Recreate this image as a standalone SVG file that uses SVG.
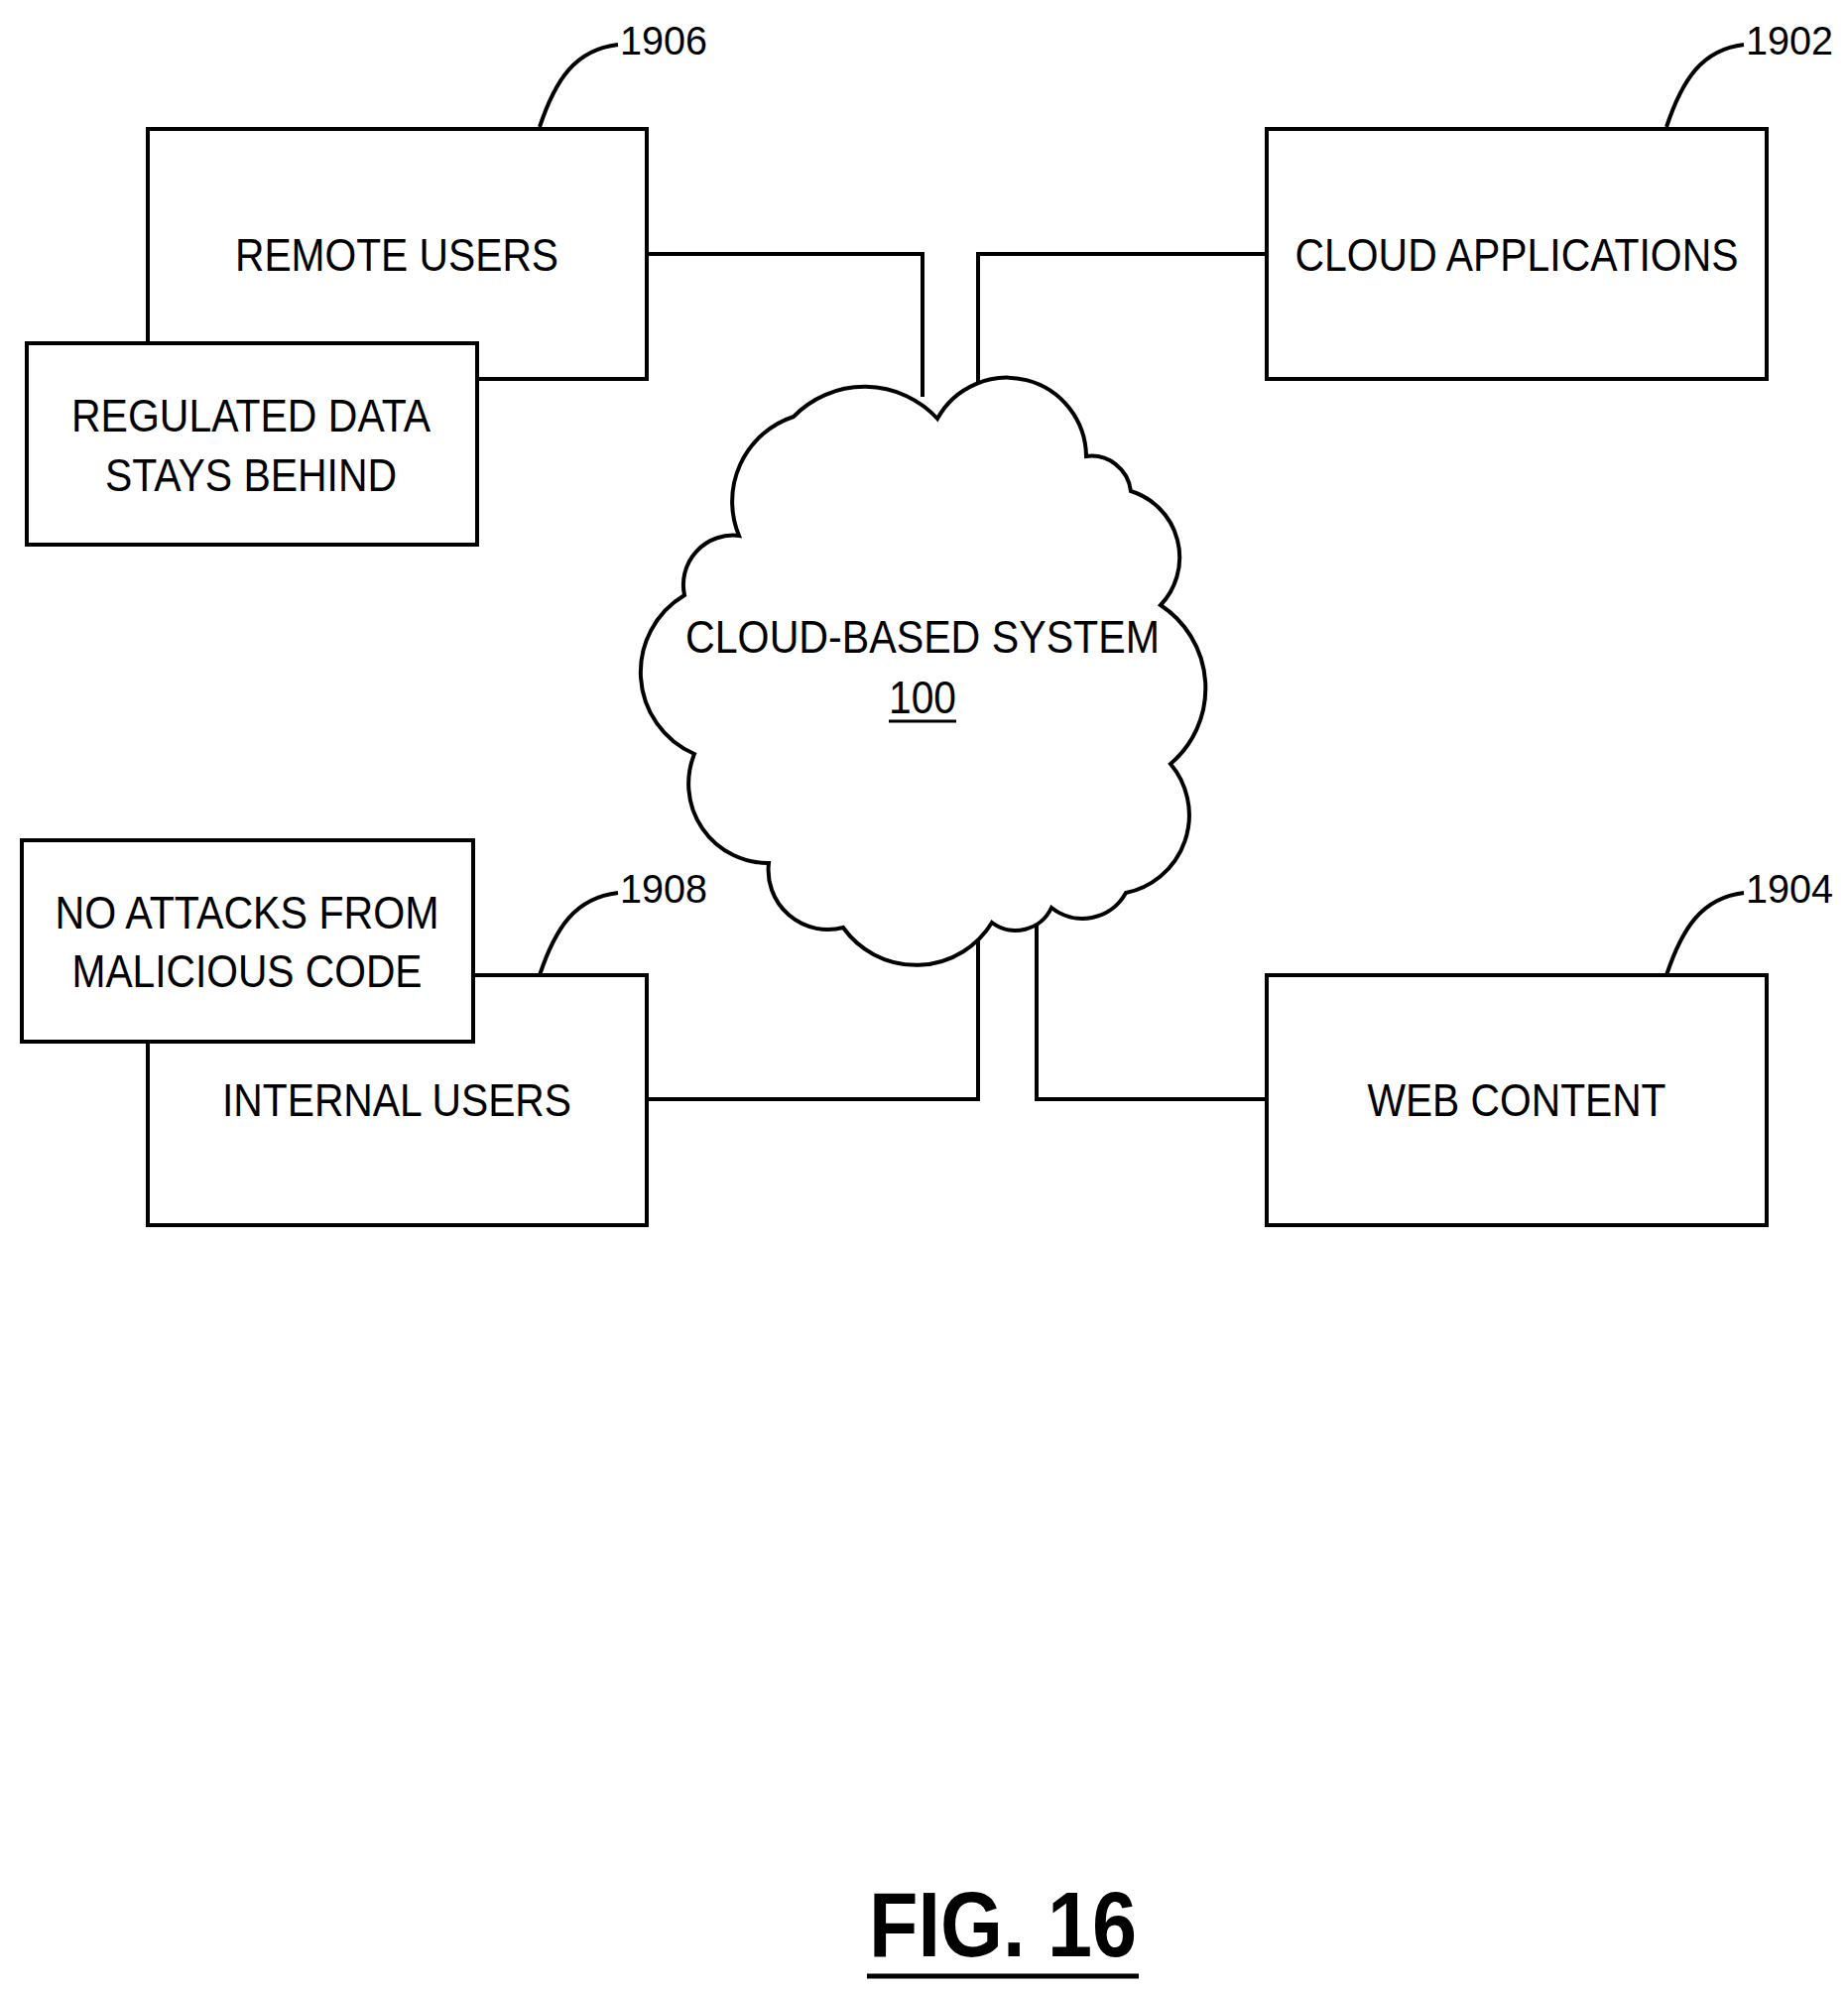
<svg xmlns="http://www.w3.org/2000/svg" width="1863" height="2008" viewBox="0 0 1863 2008">
<style>
.b{fill:#fff;stroke:#000;stroke-width:4}
.l{fill:none;stroke:#000;stroke-width:4}
text{font-family:"Liberation Sans",Arial,sans-serif;font-size:46px;text-anchor:middle;fill:#000}
.r{font-size:40px;text-anchor:start}
</style>
<rect width="1863" height="2008" fill="#fff"/>
<g id="connectors">
<polyline class="l" points="652,256 930,256 930,400"/>
<polyline class="l" points="1277,256 986,256 986,385"/>
<polyline class="l" points="652,1108 986,1108 986,944"/>
<polyline class="l" points="1277,1108 1045,1108 1045,915"/>
<path class="l" d="M544,128 C560,80 580,50 623,45"/>
<path class="l" d="M1680,128 C1696,80 1716,50 1758,45"/>
<path class="l" d="M544,983 C560,935 580,905 623,900"/>
<path class="l" d="M1680,983 C1696,935 1716,905 1758,900"/>
</g>
<g id="cloud">
<path class="b" d="M945,422 A80,80 0 0 1 1095,460 A40,40 0 0 1 1140,495 A70,70 0 0 1 1170,610 A100,100 0 0 1 1180,770 A80,80 0 0 1 1135,900 A50,50 0 0 1 1060,915 A40,40 0 0 1 1000,930 A90,90 0 0 1 850,935 A60,60 0 0 1 775,870 A80,80 0 0 1 700,760 A90,90 0 0 1 690,600 A50,50 0 0 1 745,540 A90,90 0 0 1 800,420 A100,100 0 0 1 945,422 Z"/>
<text x="930" y="658" textLength="478" lengthAdjust="spacingAndGlyphs">CLOUD-BASED SYSTEM</text>
<text x="930" y="719" textLength="68" lengthAdjust="spacingAndGlyphs">100</text>
<line class="l" x1="896" y1="727" x2="964" y2="727" style="stroke-width:3"/>
</g>
<g id="remote"><rect class="b" x="149" y="130" width="503" height="252"/><text x="400" y="273" textLength="326" lengthAdjust="spacingAndGlyphs">REMOTE USERS</text></g>
<g id="regulated"><rect class="b" x="27" y="346" width="454" height="203"/><text x="253" y="435" textLength="362" lengthAdjust="spacingAndGlyphs">REGULATED DATA</text><text x="253" y="495" textLength="294" lengthAdjust="spacingAndGlyphs">STAYS BEHIND</text></g>
<g id="cloudapps"><rect class="b" x="1277" y="130" width="504" height="252"/><text x="1529" y="273" textLength="447" lengthAdjust="spacingAndGlyphs">CLOUD APPLICATIONS</text></g>
<g id="internal"><rect class="b" x="149" y="983" width="503" height="252"/><text x="400" y="1125" textLength="352" lengthAdjust="spacingAndGlyphs">INTERNAL USERS</text></g>
<g id="noattacks"><rect class="b" x="22" y="847" width="455" height="203"/><text x="249" y="936" textLength="387" lengthAdjust="spacingAndGlyphs">NO ATTACKS FROM</text><text x="249" y="995" textLength="353" lengthAdjust="spacingAndGlyphs">MALICIOUS CODE</text></g>
<g id="web"><rect class="b" x="1277" y="983" width="504" height="252"/><text x="1529" y="1125" textLength="301" lengthAdjust="spacingAndGlyphs">WEB CONTENT</text></g>
<g id="labels">
<text class="r" x="625" y="55" textLength="88" lengthAdjust="spacingAndGlyphs">1906</text>
<text class="r" x="1760" y="55" textLength="88" lengthAdjust="spacingAndGlyphs">1902</text>
<text class="r" x="625" y="910" textLength="88" lengthAdjust="spacingAndGlyphs">1908</text>
<text class="r" x="1760" y="910" textLength="88" lengthAdjust="spacingAndGlyphs">1904</text>
</g>
<g id="fig"><text x="1011" y="1972" style="font-size:92px;font-weight:bold" textLength="270" lengthAdjust="spacingAndGlyphs">FIG. 16</text><line x1="874" y1="1992" x2="1148" y2="1992" stroke="#000" stroke-width="5"/></g>
</svg>
